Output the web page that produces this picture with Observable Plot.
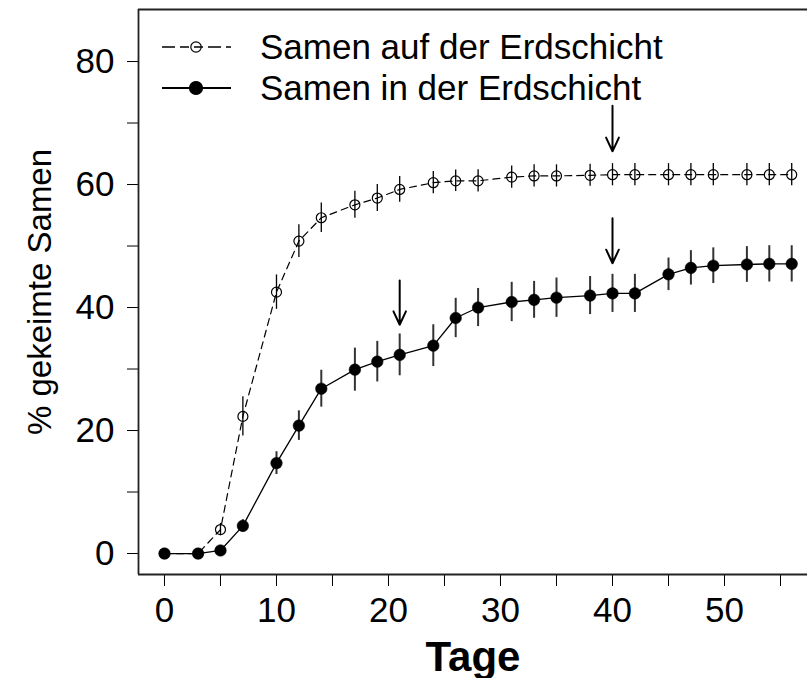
<!DOCTYPE html>
<html><head><meta charset="utf-8">
<script src="https://cdn.jsdelivr.net/npm/d3@7"></script>
<script src="https://cdn.jsdelivr.net/npm/@observablehq/plot@0.6"></script>
<style>
body{margin:0;background:#fff;font-family:"Liberation Sans",Arial,sans-serif}
#wrap{position:relative;width:807px;height:678px;overflow:hidden}
#legend{position:absolute;left:0;top:0;pointer-events:none}
</style></head><body><div id="wrap"></div>
<script>
// Tage (days of observation)
const days = [0,3,5,7,10,12,14,17,19,21,24,26,28,31,33,35,38,40,42,45,47,49,52,54,56];
// Samen auf der Erdschicht (open circles, dashed)
const aufMean = [0,0,3.9,22.3,42.5,50.8,54.6,56.7,57.8,59.2,60.3,60.6,60.6,61.2,61.4,61.4,61.5,61.6,61.6,61.6,61.6,61.6,61.6,61.6,61.6];
const aufErr  = [0,0,1.0,3.2,2.8,2.65,2.4,2.2,2.2,2.1,1.8,1.75,1.8,1.8,1.8,1.8,1.8,1.8,1.8,1.8,1.8,1.8,1.8,1.8,1.8];
// Samen in der Erdschicht (filled circles, solid)
const inMean = [0,0,0.5,4.5,14.7,20.8,26.8,29.9,31.2,32.3,33.8,38.3,40.0,40.9,41.25,41.6,41.95,42.3,42.3,45.4,46.45,46.8,47.0,47.1,47.1];
const inErr  = [0,0,0.5,1.0,1.85,2.4,3.0,3.5,3.3,3.4,3.4,3.2,3.1,3.2,3.0,3.2,3.1,3.1,3.1,2.65,2.8,2.9,2.9,2.95,2.95];
// arrows
const arrowDay = [21,40,40];
const arrowFrom = [44.4,72.8,54.5];
const arrowTo = [37.2,65.4,47.2];
// ticks
const xTicks = [0,5,10,15,20,25,30,35,40,45,50,55];
const yTicks = [0,10,20,30,40,50,60,70,80];
const seriesNames = ["Samen auf der Erdschicht","Samen in der Erdschicht"];

const xDom = [-2.32, 57.41];
const yDom = [-3.41, 88.46];

const data = days.map((d,i)=>({day:d, auf:aufMean[i], aufE:aufErr[i], inn:inMean[i], innE:inErr[i]}));
const arrows = arrowDay.map((d,i)=>({day:d, y1:arrowFrom[i], y2:arrowTo[i]}));
const font = '"Liberation Sans", Arial, Helvetica, sans-serif';

const plot = Plot.plot({
  width: 807, height: 678,
  marginLeft: 138, marginRight: 0, marginTop: 9, marginBottom: 104,
  x: {domain: xDom},
  y: {domain: yDom},
  style: {fontFamily: font, background: "white", color: "black", overflow: "visible"},
  marks: [
    Plot.axisX({ticks: xTicks, tickFormat: d => d % 10 === 0 ? String(d) : "", tickSize: 12, tickPadding: 11, fontSize: 35, label: null}),
    Plot.axisY({ticks: yTicks, tickFormat: d => d % 20 === 0 ? String(d) : "", tickSize: 11, tickPadding: 13, fontSize: 35, label: null}),
    Plot.ruleX([xDom[0]], {stroke: "#222", strokeWidth: 1.8}),
    Plot.ruleY([yDom[0], yDom[1]], {stroke: "#222", strokeWidth: 1.8}),
    Plot.line(data, {x: "day", y: "auf", stroke: "black", strokeWidth: 1.2, strokeDasharray: "7,5"}),
    Plot.line(data, {x: "day", y: "inn", stroke: "black", strokeWidth: 1.3}),
    Plot.ruleX(data.filter(d => d.aufE > 0), {x: "day", y1: d => d.auf - d.aufE, y2: d => d.auf + d.aufE, stroke: "black", strokeWidth: 1.3}),
    Plot.ruleX(data.filter(d => d.innE > 0), {x: "day", y1: d => d.inn - d.innE, y2: d => d.inn + d.innE, stroke: "#333", strokeWidth: 2}),
    Plot.dot(data, {x: "day", y: "auf", r: 5, stroke: "black", fill: "none", strokeWidth: 1.2}),
    Plot.dot(data, {x: "day", y: "inn", r: 5.8, fill: "black", stroke: "black", strokeWidth: 0.5}),
    Plot.arrow(arrows, {x: "day", y1: "y1", y2: "y2", stroke: "black", strokeWidth: 2, headLength: 12, headAngle: 50}),
    Plot.text(["Tage"], {frameAnchor: "bottom", dy: 96, lineAnchor: "bottom", fontSize: 42, fontWeight: "bold"}),
    Plot.text(["% gekeimte Samen"], {frameAnchor: "left", textAnchor: "middle", dx: -98, rotate: -90, fontSize: 33})
  ]
});
const wrap = document.getElementById("wrap");
wrap.appendChild(plot);

// legend overlay (inside the plot frame, top-left)
const ns = "http://www.w3.org/2000/svg";
const lg = document.createElementNS(ns, "svg");
lg.setAttribute("id", "legend");
lg.setAttribute("width", 807); lg.setAttribute("height", 678);
const rows = [
  {y: 47, dash: "14,5,3,5", filled: false, sw: 1.4, r: 5.2},
  {y: 88, dash: null, filled: true, sw: 2, r: 6.5}
];
rows.forEach((row, i) => {
  const l = document.createElementNS(ns, "line");
  l.setAttribute("x1", 162); l.setAttribute("x2", 231);
  l.setAttribute("y1", row.y); l.setAttribute("y2", row.y);
  l.setAttribute("stroke", "black"); l.setAttribute("stroke-width", row.sw);
  if (row.dash) l.setAttribute("stroke-dasharray", "13,5,9,5,9,5");
  lg.appendChild(l);
  const c = document.createElementNS(ns, "circle");
  c.setAttribute("cx", 196); c.setAttribute("cy", row.y); c.setAttribute("r", row.r);
  c.setAttribute("fill", row.filled ? "black" : "none");
  c.setAttribute("stroke", "black"); c.setAttribute("stroke-width", 1.2);
  lg.appendChild(c);
  const t = document.createElementNS(ns, "text");
  t.setAttribute("x", 260); t.setAttribute("y", row.y + 12);
  t.setAttribute("font-size", 35); t.setAttribute("font-family", font);
  t.textContent = seriesNames[i];
  lg.appendChild(t);
});
wrap.appendChild(lg);
</script></body></html>
